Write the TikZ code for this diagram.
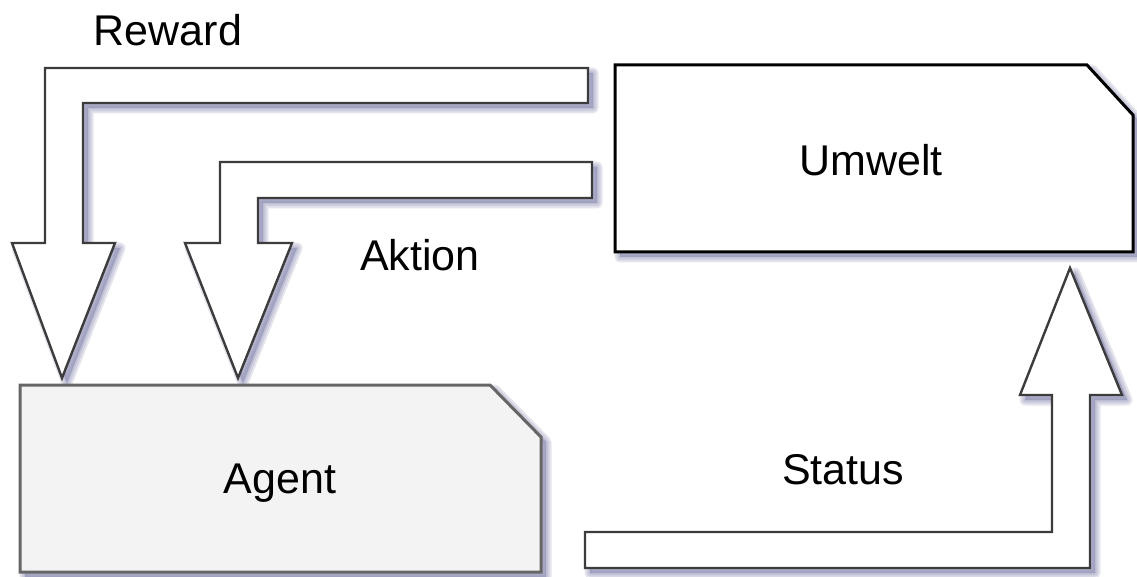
\documentclass[tikz,border=0pt]{standalone}
\usepackage{fontspec}
\setmainfont{Liberation Sans}
\definecolor{shadowcol}{HTML}{8080AC}
\definecolor{agentfill}{HTML}{F3F3F3}
\definecolor{agentline}{HTML}{666666}
\definecolor{arrowline}{HTML}{3C3C3C}
\tikzset{
  blockarrow/.style={fill=white, draw=arrowline, line width=2.4pt, line join=miter},
  agentbox/.style={fill=agentfill, draw=agentline, line width=3pt},
  envbox/.style={fill=white, draw=black, line width=3pt},
  label/.style={font=\fontsize{43}{50}\selectfont, text=black, inner sep=0pt},
}
% soft offset shadow under a closed path
\newcommand\softshadow[1]{%
  \foreach \w in {11,7,3}{%
    \path[fill=shadowcol, draw=shadowcol, opacity=0.2, line width=\w pt,
          line join=round, shift={(5,5)}] #1;}}
% outlines (pixel grid, y pointing down)
\def\rewardpath{(588,68) -- (45,68) -- (45,243) -- (12,243) -- (62,378)
  -- (115,243) -- (83,243) -- (83,103) -- (588,103) -- cycle}
\def\aktionpath{(592,162) -- (220,162) -- (220,243) -- (185,243) -- (238,378)
  -- (292,243) -- (258,243) -- (258,198) -- (592,198) -- cycle}
\def\statuspath{(585,532) -- (1052,532) -- (1052,395) -- (1020,395) -- (1070,268)
  -- (1122,395) -- (1090,395) -- (1090,568) -- (585,568) -- cycle}
\def\agentpath{(20,385) -- (490,385) -- (541,437) -- (541,572) -- (20,572) -- cycle}
\def\umweltpath{(615,65) -- (1087,65) -- (1133,115) -- (1133,252) -- (615,252) -- cycle}
\begin{document}
\begin{tikzpicture}[x=1pt, y=-1pt]
  \useasboundingbox (0,0) rectangle (1137,577);
  \fill[white] (0,0) rectangle (1137,577);

  % shadows first
  \softshadow{\rewardpath}
  \softshadow{\aktionpath}
  \softshadow{\statuspath}
  \softshadow{\agentpath}
  \softshadow{\umweltpath}

  % boxes
  \path[agentbox] \agentpath;
  \path[envbox] \umweltpath;
  \node[label] (agent) at (280,483) {Agent};
  \node[label] (umwelt) at (871,160) {Umwelt};

  % block arrows
  \path[blockarrow] \rewardpath;
  \path[blockarrow] \aktionpath;
  \path[blockarrow] \statuspath;

  % arrow labels
  \node[label] (reward) at (168,30) {Reward};
  \node[label] (aktion) at (420,255) {Aktion};
  \node[label] (status) at (843,470) {Status};
\end{tikzpicture}
\end{document}
